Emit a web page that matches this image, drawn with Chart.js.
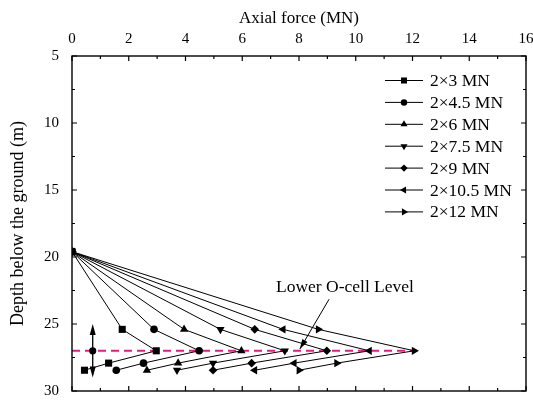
<!DOCTYPE html>
<html>
<head>
<meta charset="utf-8">
<script src="https://cdn.jsdelivr.net/npm/chart.js@4/dist/chart.umd.min.js"></script>
<style>
  html, body { margin: 0; padding: 0; background: #fff; }
  #wrap { width: 533px; height: 402px; }
</style>
</head>
<body>
<div id="wrap"><canvas id="c" width="533" height="402"></canvas></div>
<script>
// Depth (m) of the five measuring levels shared by every load step
const depths = [19.6, 25.4, 27.0, 27.92, 28.45];

// Axial force (MN) at each level, one array per load step
const force3   = [0, 1.77, 2.97, 1.29, 0.44];
const force4_5 = [0, 2.89, 4.48, 2.52, 1.56];
const force6   = [0, 3.95, 5.97, 3.74, 2.64];
const force7_5 = [0, 5.23, 7.50, 4.97, 3.70];
const force9   = [0, 6.44, 8.98, 6.33, 4.97];
const force10_5 = [0, 7.44, 10.48, 7.83, 6.44];
const force12  = [0, 8.68, 12.06, 9.33, 8.00];

const seriesLabels = ['2×3 MN', '2×4.5 MN', '2×6 MN', '2×7.5 MN', '2×9 MN', '2×10.5 MN', '2×12 MN'];
const seriesForces = [force3, force4_5, force6, force7_5, force9, force10_5, force12];

// O-cell level and the dashed reference line across the pile
const oCellDepth = 27.0;
const oCellLineForce = [0, 12.1];
// Vertical double arrow marking the cell
const cellArrowForce = 0.73;
const cellArrowDepths = [25, 29];
// Annotation text and its pointer
const noteText = 'Lower O-cell Level';
const notePos = [9.62, 22.25];
const notePointerFrom = [9.06, 23.15];
const notePointerTo = [8.03, 26.87];

// Axis ticks
const xTicks = [0, 2, 4, 6, 8, 10, 12, 14, 16];
const yTicks = [5, 10, 15, 20, 25, 30];

// Marker look for each load step
const markerStyles = ['rect', 'circle', 'triangle', 'triangle', 'rectRot', 'triangle', 'triangle'];
const markerRotations = [0, 0, 0, 180, 0, -90, 90];
const markerRadius = [5, 3.8, 4.8, 4.8, 4.3, 4.8, 4.8];

const FONT = "'Liberation Serif', 'Times New Roman', serif";

const datasets = seriesForces.map((f, i) => ({
  label: seriesLabels[i],
  data: f.map((v, k) => ({ x: v, y: depths[k] })),
  borderColor: '#000',
  backgroundColor: '#000',
  borderWidth: 1,
  pointStyle: markerStyles[i],
  rotation: markerRotations[i],
  pointRadius: markerRadius[i],
  pointBorderWidth: 0,
  tension: 0,
  order: 1
}));

datasets.push({
  label: 'O-cell level',
  data: oCellLineForce.map(v => ({ x: v, y: oCellDepth })),
  borderColor: '#e8197f',
  borderWidth: 2,
  borderDash: [8, 5],
  pointRadius: 0,
  order: 5,
  isRef: true
});

function drawHead(ctx, x0, y0, x1, y1, len, half) {
  const a = Math.atan2(y1 - y0, x1 - x0);
  ctx.beginPath();
  ctx.moveTo(x1, y1);
  ctx.lineTo(x1 - len * Math.cos(a) + half * Math.sin(a), y1 - len * Math.sin(a) - half * Math.cos(a));
  ctx.lineTo(x1 - len * Math.cos(a) - half * Math.sin(a), y1 - len * Math.sin(a) + half * Math.cos(a));
  ctx.closePath();
  ctx.fill();
}

// Closed frame with inward tick marks on all four sides
const framePlugin = {
  id: 'frame',
  afterDraw(chart) {
    const { ctx, chartArea: a, scales: { x, y } } = chart;
    ctx.save();
    ctx.strokeStyle = '#000';
    ctx.lineWidth = 1.4;
    ctx.strokeRect(a.left, a.top, a.right - a.left, a.bottom - a.top);
    ctx.lineWidth = 1.2;
    ctx.beginPath();
    for (let v = x.min; v <= x.max + 1e-9; v += 1) {
      const px = x.getPixelForValue(v);
      const len = (Math.round(v) % 2 === 0) ? 5 : 3;
      ctx.moveTo(px, a.top); ctx.lineTo(px, a.top + len);
      ctx.moveTo(px, a.bottom); ctx.lineTo(px, a.bottom - len);
    }
    for (let v = y.min; v <= y.max + 1e-9; v += 2.5) {
      const py = y.getPixelForValue(v);
      const len = (Math.abs(v % 5) < 1e-6) ? 5 : 3;
      ctx.moveTo(a.left, py); ctx.lineTo(a.left + len, py);
      ctx.moveTo(a.right, py); ctx.lineTo(a.right - len, py);
    }
    ctx.stroke();
    ctx.restore();
  }
};

// O-cell arrow, annotation text and legend
const notesPlugin = {
  id: 'notes',
  afterDraw(chart) {
    const { ctx, scales: { x, y } } = chart;
    ctx.save();
    ctx.strokeStyle = '#000';
    ctx.fillStyle = '#000';

    // vertical double arrow with the cell marker
    const ax = x.getPixelForValue(cellArrowForce);
    const ay0 = y.getPixelForValue(cellArrowDepths[0]);
    const ay1 = y.getPixelForValue(cellArrowDepths[1]);
    ctx.lineWidth = 1.3;
    ctx.beginPath();
    ctx.moveTo(ax, ay0 + 6); ctx.lineTo(ax, ay1 - 6);
    ctx.stroke();
    drawHead(ctx, ax, ay1, ax, ay0, 11, 3);
    drawHead(ctx, ax, ay0, ax, ay1, 11, 3);
    ctx.beginPath();
    ctx.arc(ax, y.getPixelForValue(oCellDepth), 3.6, 0, Math.PI * 2);
    ctx.fill();

    // annotation
    ctx.font = `17.5px ${FONT}`;
    ctx.textAlign = 'center';
    ctx.textBaseline = 'middle';
    ctx.fillText(noteText, x.getPixelForValue(notePos[0]), y.getPixelForValue(notePos[1]));
    const px0 = x.getPixelForValue(notePointerFrom[0]), py0 = y.getPixelForValue(notePointerFrom[1]);
    const px1 = x.getPixelForValue(notePointerTo[0]), py1 = y.getPixelForValue(notePointerTo[1]);
    ctx.lineWidth = 1;
    ctx.beginPath();
    ctx.moveTo(px0, py0); ctx.lineTo(px1, py1);
    ctx.stroke();
    drawHead(ctx, px0, py0, px1, py1, 10, 3);

    // legend
    const drawPoint = Chart.helpers && Chart.helpers.drawPoint;
    const lx0 = 385, lx1 = 423, lmx = 404, ltx = 430;
    let ly = 80.5;
    ctx.textAlign = 'left';
    chart.data.datasets.forEach(ds => {
      if (ds.isRef) return;
      ctx.lineWidth = 1;
      ctx.beginPath();
      ctx.moveTo(lx0, ly); ctx.lineTo(lx1, ly);
      ctx.stroke();
      if (drawPoint) {
        drawPoint(ctx, { pointStyle: ds.pointStyle, rotation: ds.rotation, radius: ds.pointRadius * 0.85, borderWidth: 0 }, lmx, ly);
      }
      ctx.fillText(ds.label, ltx, ly + 1);
      ly += 21.9;
    });
    ctx.restore();
  }
};

new Chart(document.getElementById('c').getContext('2d'), {
  type: 'line',
  data: { datasets },
  options: {
    responsive: false,
    animation: false,
    layout: { padding: { left: 4, right: 7, top: 6, bottom: 11 } },
    plugins: { legend: { display: false }, tooltip: { enabled: false } },
    scales: {
      x: {
        type: 'linear',
        position: 'top',
        min: 0, max: 16,
        afterBuildTicks(s) { s.ticks = xTicks.map(v => ({ value: v })); },
        ticks: { font: { family: FONT, size: 15 }, color: '#000', padding: 8, maxRotation: 0, autoSkip: false },
        grid: { display: false, drawTicks: false },
        border: { display: false },
        title: { display: true, text: 'Axial force (MN)', color: '#000', font: { family: FONT, size: 17 }, padding: { top: 2, bottom: 0 } },
        afterFit(s) { s.height = 50; s.paddingLeft = 0; s.paddingRight = 0; }
      },
      y: {
        type: 'linear',
        reverse: true,
        min: 5, max: 30,
        afterBuildTicks(s) { s.ticks = yTicks.map(v => ({ value: v })); },
        ticks: { font: { family: FONT, size: 15 }, color: '#000', padding: 13, autoSkip: false },
        grid: { display: false, drawTicks: false },
        border: { display: false },
        title: { display: true, text: 'Depth below the ground (m)', color: '#000', font: { family: FONT, size: 18 }, padding: { top: 3, bottom: 0 } },
        afterFit(s) { s.width = 68; s.paddingTop = 0; s.paddingBottom = 0; }
      }
    }
  },
  plugins: [framePlugin, notesPlugin]
});
</script>
</body>
</html>
